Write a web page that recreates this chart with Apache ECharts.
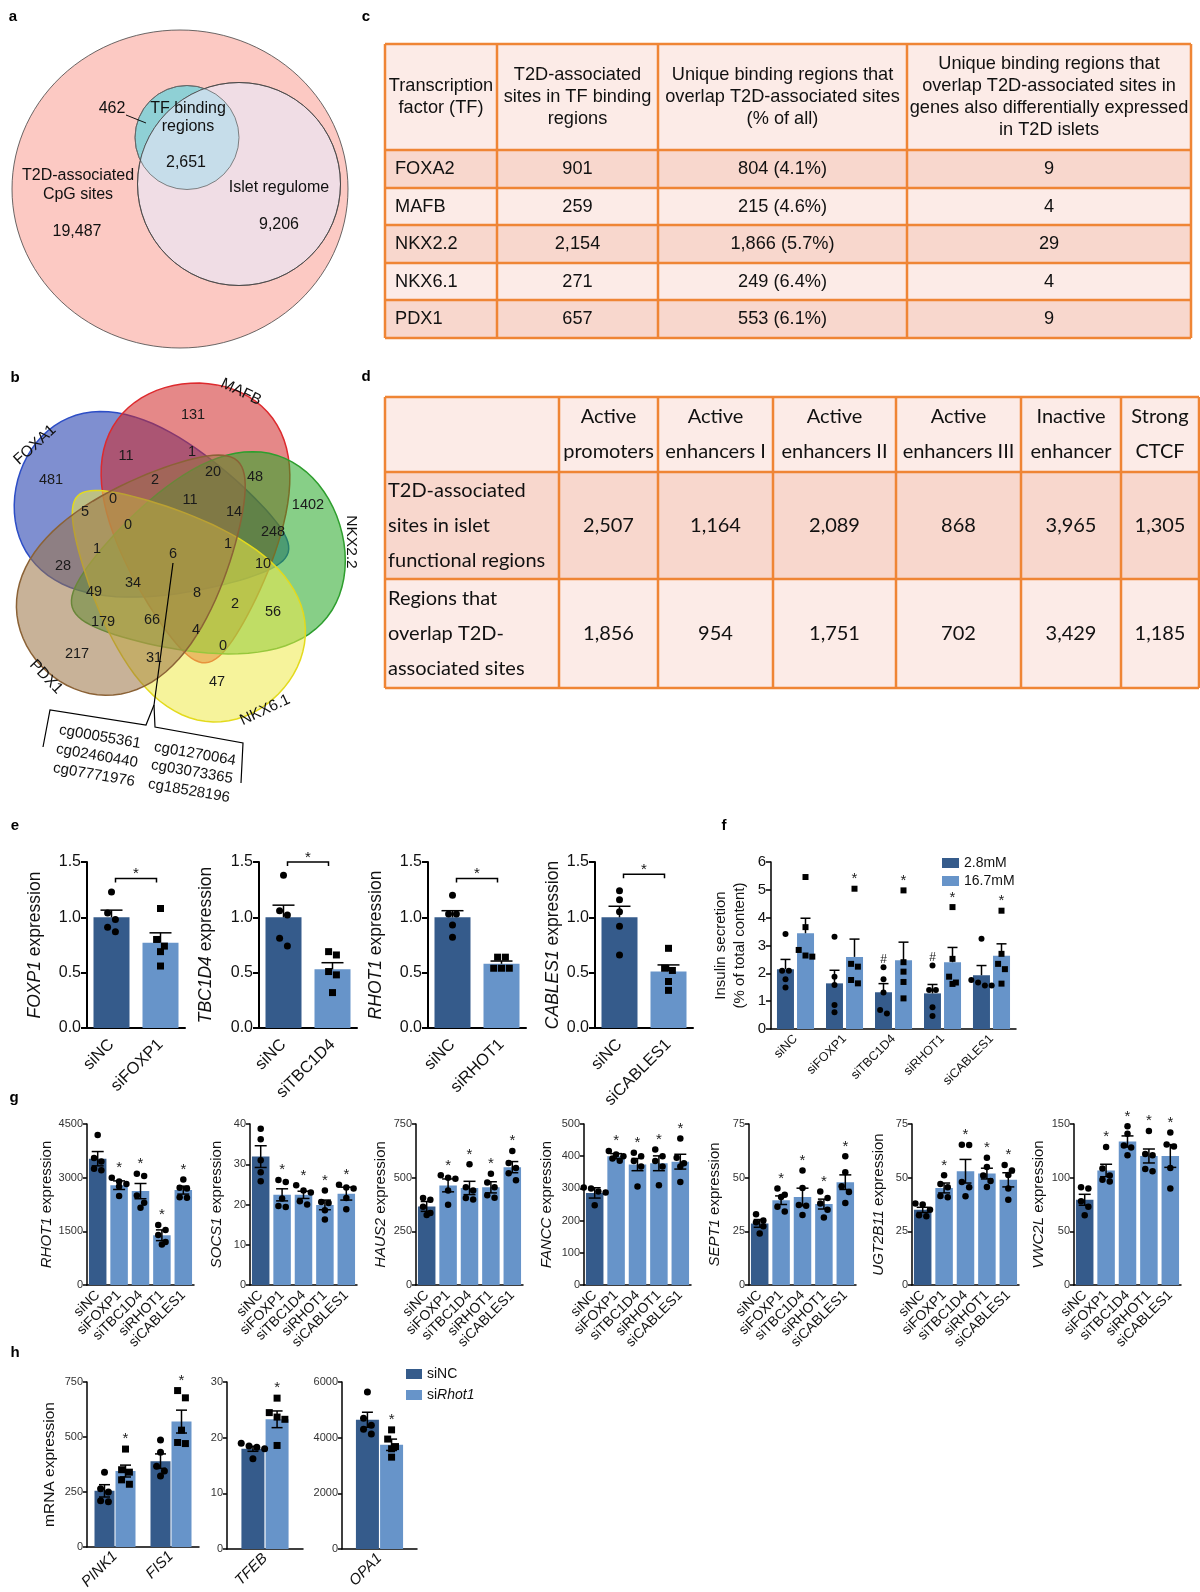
<!DOCTYPE html>
<html>
<head>
<meta charset="utf-8">
<script src="https://cdn.jsdelivr.net/npm/echarts@6.0.0/dist/echarts.min.js"></script>
<style>
  html, body { margin: 0; padding: 0; background: #fff; }
  #chart { width: 1200px; height: 1592px; }
</style>
</head>
<body>
<div id="chart"></div>
<script>
// ---------- panel a: three-set overlap ----------
const aCounts = ['462', '2,651', '19,487', '9,206'];
const aNames = ['TF binding\nregions', 'T2D-associated\nCpG sites', 'Islet regulome'];

// ---------- panel b: five-set overlap ----------
const bSets = ['FOXA1', 'MAFB', 'NKX2.2', 'NKX6.1', 'PDX1'];
const bCounts = [131, 11, 1, 481, 20, 48, 2, 0, 11, 14, 1402, 5, 0, 248, 1, 6, 1, 28, 10, 34, 49, 8, 2, 56, 179, 66, 4, 0, 217, 31, 47];
const bCpg = ['cg00055361', 'cg02460440', 'cg07771976', 'cg01270064', 'cg03073365', 'cg18528196'];

// ---------- panel c: table ----------
const cHead = ['Transcription\nfactor (TF)', 'T2D-associated\nsites in TF binding\nregions',
  'Unique binding regions that\noverlap T2D-associated sites\n(% of all)',
  'Unique binding regions that\noverlap T2D-associated sites in\ngenes also differentially expressed\nin T2D islets'];
const cTF = ['FOXA2', 'MAFB', 'NKX2.2', 'NKX6.1', 'PDX1'];
const cSites = ['901', '259', '2,154', '271', '657'];
const cUnique = ['804 (4.1%)', '215 (4.6%)', '1,866 (5.7%)', '249 (6.4%)', '553 (6.1%)'];
const cDE = ['9', '4', '29', '4', '9'];

// ---------- panel d: table ----------
const dHead = ['', 'Active\npromoters', 'Active\nenhancers I', 'Active\nenhancers II', 'Active\nenhancers III', 'Inactive\nenhancer', 'Strong\nCTCF'];
const dRowNames = ['T2D-associated\nsites in islet\nfunctional regions', 'Regions that\noverlap T2D-\nassociated sites'];
const dSites = ['2,507', '1,164', '2,089', '868', '3,965', '1,305'];
const dOverlap = ['1,856', '954', '1,751', '702', '3,429', '1,185'];

// ---------- panel e ----------
const eGenes = ['FOXP1', 'TBC1D4', 'RHOT1', 'CABLES1'];
const eMean = [[1.00, 0.77], [1.00, 0.53], [1.00, 0.58], [1.00, 0.51]];
const eSem = [[0.065, 0.09], [0.11, 0.06], [0.06, 0.025], [0.10, 0.06]];
const ePts = [
  [[1.23, 1.04, 0.98, 0.87, 0.91], [1.08, 0.80, 0.74, 0.69, 0.56]],
  [[1.38, 1.06, 1.02, 0.81, 0.74], [0.69, 0.66, 0.51, 0.48, 0.32]],
  [[1.20, 1.03, 1.03, 0.93, 0.82], [0.64, 0.64, 0.54, 0.54, 0.54]],
  [[1.24, 1.16, 1.05, 0.92, 0.66], [0.72, 0.52, 0.54, 0.42, 0.34]],
];
const eBracket = [1.35, 1.5, 1.35, 1.39];

// ---------- panel f ----------
const fGroups = ['siNC', 'siFOXP1', 'siTBC1D4', 'siRHOT1', 'siCABLES1'];
const fLowMean = [2.15, 1.64, 1.32, 1.28, 1.93];
const fLowSem = [0.35, 0.47, 0.31, 0.32, 0.35];
const fHighMean = [3.44, 2.59, 2.47, 2.40, 2.63];
const fHighSem = [0.54, 0.64, 0.65, 0.53, 0.43];
const fLowPts = [[3.41, 2.09, 2.09, 1.79, 1.49], [3.31, 1.88, 1.58, 0.86, 0.60], [2.22, 1.79, 1.31, 0.68, 0.56],
  [2.28, 1.40, 1.40, 0.78, 0.47], [3.24, 1.76, 1.56, 1.67, 1.56]];
const fHighPts = [[5.46, 3.66, 2.84, 2.60, 2.64], [5.04, 2.24, 2.34, 1.76, 1.64], [4.98, 2.40, 2.06, 1.69, 1.10],
  [4.38, 2.52, 1.88, 1.62, 1.67], [4.25, 2.70, 2.34, 2.15, 1.63]];
const fLowMark = ['', '', '#', '#', ''];
const fHighMark = ['', '*', '*', '*', '*'];

// ---------- panel g ----------
const gGenes = ['RHOT1', 'SOCS1', 'HAUS2', 'FANCC', 'SEPT1', 'UGT2B11', 'VWC2L'];
const gMax = [4500, 40, 750, 500, 75, 75, 150];
const gStep = [1500, 10, 250, 100, 25, 25, 50];
const gMean = [
  [3530, 2790, 2624, 1390, 2652],
  [31.9, 22.4, 22.4, 19.9, 22.7],
  [366, 464, 452, 455, 549],
  [286, 400, 374, 378, 383],
  [28.7, 39.5, 41.0, 37.7, 47.9],
  [35.0, 45.2, 53.0, 51.9, 49.0],
  [79.4, 106.7, 133.7, 120.2, 120.2],
];
const gSem = [
  [200, 120, 213, 150, 111],
  [2.7, 1.5, 0.9, 1.2, 1.6],
  [23, 30, 31, 26, 26],
  [16, 8, 19, 23, 23],
  [1.8, 2.0, 4.1, 2.3, 3.4],
  [1.2, 2.3, 5.5, 2.5, 3.3],
  [5.1, 5.8, 5.2, 6.5, 10.6],
];
const gPts = [
  [[4190, 3550, 3450, 3250, 3210], [3000, 2890, 2820, 2750, 2490], [3110, 3050, 2500, 2300, 2160], [1680, 1540, 1400, 1200, 1130], [2950, 2720, 2700, 2450, 2440]],
  [[38.8, 36.2, 31.0, 28.0, 25.8], [26.1, 25.6, 21.5, 19.6, 19.4], [24.8, 23.5, 23.0, 20.8, 20.0], [23.5, 20.6, 20.4, 18.6, 16.3], [24.9, 24.2, 24.0, 21.6, 18.8]],
  [[405, 397, 365, 335, 326], [511, 500, 495, 440, 374], [562, 455, 440, 405, 398], [518, 478, 455, 418, 406], [624, 568, 545, 520, 488]],
  [[303, 300, 290, 287, 248], [416, 405, 400, 393, 386], [411, 400, 385, 368, 306], [421, 400, 385, 368, 310], [455, 395, 378, 368, 320]],
  [[32.9, 30.0, 29.2, 27.4, 24.0], [44.9, 42.0, 41.0, 36.5, 34.2], [53.3, 45.2, 37.3, 36.9, 32.6], [43.6, 40.5, 38.0, 35.0, 31.4], [60.0, 52.5, 46.0, 43.3, 38.2]],
  [[38.0, 37.5, 35.0, 32.5, 32.0], [51.1, 47.0, 45.5, 41.5, 40.9], [65.3, 65.2, 48.0, 45.5, 41.3], [59.3, 55.0, 51.0, 48.5, 45.7], [55.9, 53.3, 51.2, 45.0, 39.7]],
  [[91, 90, 78, 73, 65], [128.5, 108.5, 102, 98, 96.5], [148, 141, 130, 128, 121], [143.5, 122, 121, 108, 106], [142, 131, 129, 109, 90]],
];
const gMark = ['', '*', '*', '*', '*'];

// ---------- panel h ----------
const hGenes = [['PINK1', 'FIS1'], ['TFEB'], ['OPA1']];
const hMax = [750, 30, 6000];
const hStep = [250, 10, 2000];
const hNCMean = [[255, 390], [18.0], [4644]];
const hNCSem = [[28, 33], [0.45], [270]];
const hKDMean = [[345, 570], [23.3], [3744]];
const hKDSem = [[27, 52], [1.5], [204]];
const hNCPts = [[[340, 265, 250, 210, 205], [486, 430, 367, 345, 322]], [[19.0, 18.5, 18.3, 18.0, 16.2]], [[5640, 4700, 4450, 4300, 4130]]];
const hKDPts = [[[445, 351, 340, 305, 285], [711, 678, 531, 475, 470]], [[27.1, 24.5, 23.7, 23.3, 18.6]], [[4280, 3950, 3680, 3600, 3300]]];

// ---------- styles ----------
const FONT = '"Liberation Sans", Arial, Helvetica, sans-serif';
const DARK = '#355B8B';
const LIGHT = '#6794C9';
const PINK_L = '#FCEBE7';
const PINK_D = '#F8D7CD';
const ORANGE = '#EF8535';

const grid = [], xAxis = [], yAxis = [], series = [], graphic = [];

function txt(s, x, y, o = {}) {
  return {
    type: 'text', x: x, y: y, rotation: o.rot || 0,
    style: {
      text: s, fill: o.color || '#111', fontSize: o.size || 15, fontFamily: o.family || FONT,
      fontWeight: o.weight || 'normal', align: o.align || 'center', verticalAlign: 'middle',
      textAlign: o.align || 'center', textVerticalAlign: 'middle', lineHeight: o.lh || null,
    },
  };
}

function ellipsePts(cx, cy, rx, ry) {
  const p = [];
  for (let i = 0; i < 120; i++) {
    const t = i / 120 * Math.PI * 2;
    p.push([cx + rx * Math.cos(t), cy + ry * Math.sin(t)]);
  }
  return p;
}

// overlap of two circles, as an outline
function lens(x1, y1, r1, x2, y2, r2) {
  const d = Math.hypot(x2 - x1, y2 - y1), phi = Math.atan2(y2 - y1, x2 - x1);
  const a = (r1 * r1 - r2 * r2 + d * d) / (2 * d);
  const al1 = Math.acos(a / r1), al2 = Math.acos((d - a) / r2);
  const p = [];
  for (let i = 0; i <= 40; i++) {
    const t = phi - al1 + 2 * al1 * i / 40;
    p.push([x1 + r1 * Math.cos(t), y1 + r1 * Math.sin(t)]);
  }
  for (let i = 0; i <= 40; i++) {
    const t = phi + Math.PI - al2 + 2 * al2 * i / 40;
    p.push([x2 + r2 * Math.cos(t), y2 + r2 * Math.sin(t)]);
  }
  return p;
}

// egg shaped blob, fat end away from the direction deg
function egg(cx, cy, a, b, k, deg) {
  const th = deg * Math.PI / 180, c = Math.cos(th), s = Math.sin(th), p = [];
  for (let i = 0; i < 90; i++) {
    const t = i / 90 * Math.PI * 2;
    const u = a * Math.cos(t), v = b * Math.sin(t) * (1 - k * Math.cos(t));
    p.push([cx + u * c - v * s, cy + u * s + v * c]);
  }
  return p;
}

// ---------- panel letters ----------
[['a', 13, 17], ['b', 15, 378], ['c', 366, 17], ['d', 366, 377], ['e', 15, 826], ['f', 724, 826], ['g', 14, 1098], ['h', 15, 1353]]
  .forEach(l => graphic.push(txt(l[0], l[1], l[2], {size: 15, weight: 'bold', color: '#000'})));

// ---------- panel a ----------
const tf = [187, 137.5, 52], reg = [239, 184, 101.5];
graphic.push({type: 'polygon', shape: {points: ellipsePts(180, 189, 168, 159)}, style: {fill: '#FCC9C3', stroke: '#444', lineWidth: 0.8}});
graphic.push({type: 'circle', shape: {cx: tf[0], cy: tf[1], r: tf[2]}, style: {fill: '#8FD0D5', stroke: '#555', lineWidth: 0.8}});
graphic.push({type: 'circle', shape: {cx: reg[0], cy: reg[1], r: reg[2]}, style: {fill: '#F0DDE5', stroke: '#444', lineWidth: 0.8}});
graphic.push({type: 'polygon', shape: {points: lens(tf[0], tf[1], tf[2], reg[0], reg[1], reg[2])}, style: {fill: '#C6DDEA'}});
graphic.push({type: 'circle', shape: {cx: tf[0], cy: tf[1], r: tf[2]}, style: {fill: 'none', stroke: '#666', lineWidth: 0.8}});
graphic.push({type: 'circle', shape: {cx: reg[0], cy: reg[1], r: reg[2]}, style: {fill: 'none', stroke: '#444', lineWidth: 0.8}});
graphic.push({type: 'line', shape: {x1: 126, y1: 115, x2: 146, y2: 123}, style: {stroke: '#111', lineWidth: 1}});
graphic.push(txt(aCounts[0], 112, 109, {size: 16}));
graphic.push(txt(aNames[0], 188, 118, {lh: 18, size: 16}));
graphic.push(txt(aCounts[1], 186, 163, {size: 16}));
graphic.push(txt(aNames[1], 78, 185, {lh: 19, size: 16}));
graphic.push(txt(aCounts[2], 77, 232, {size: 16}));
graphic.push(txt(aNames[2], 279, 188, {size: 16}));
graphic.push(txt(aCounts[3], 279, 225, {size: 16}));

// ---------- panel b ----------
const bShapes = [
  {c: [153, 516], a: 140, b: 84, k: 0.45, r: 15, fill: 'rgba(22,51,170,0.55)', line: '#2D4EC6'},
  {c: [198, 523], a: 140, b: 87, k: 0.45, r: 87, fill: 'rgba(208,39,39,0.55)', line: '#DD2A2E'},
  {c: [206, 566], a: 140, b: 92, k: 0.45, r: 162.8, fill: 'rgba(37,168,37,0.55)', line: '#2E9E2E'},
  {c: [178, 595], a: 141, b: 82, k: 0.45, r: 224.6, fill: 'rgba(239,233,73,0.55)', line: '#E3DA1C'},
  {c: [142, 566], a: 142, b: 84, k: 0.4, r: -47.8, fill: 'rgba(155,115,68,0.55)', line: '#8B6236'},
];
bShapes.forEach(s => graphic.push({type: 'polygon', shape: {points: egg(s.c[0], s.c[1], s.a, s.b, s.k, s.r), smooth: 0},
  style: {fill: s.fill, stroke: s.line, lineWidth: 1.5}}));
const bCountXY = [[193, 415], [126, 456], [192, 452], [51, 480], [213, 472], [255, 477], [155, 480], [113, 499], [190, 500],
  [234, 512], [308, 505], [85, 512], [128, 525], [273, 532], [97, 549], [173, 554], [228, 544], [63, 566], [263, 564],
  [133, 583], [94, 592], [197, 593], [235, 604], [273, 612], [103, 622], [152, 620], [196, 630], [223, 646], [77, 654],
  [154, 658], [217, 682]];
bCounts.forEach((n, i) => graphic.push(txt(String(n), bCountXY[i][0], bCountXY[i][1], {size: 14.5, color: '#1a1a1a'})));
const bLabelXY = [[35, 445, 0.74], [241, 392, -0.45], [351, 542, -Math.PI / 2], [265, 710, 0.44], [46, 677, -0.81]];
bSets.forEach((s, i) => graphic.push(txt(s, bLabelXY[i][0], bLabelXY[i][1], {size: 15.5, rot: bLabelXY[i][2]})));
graphic.push({type: 'polyline', shape: {points: [[173, 563], [154, 705]]}, style: {stroke: '#000', lineWidth: 1.2, fill: 'none'}});
graphic.push({type: 'polyline', shape: {points: [[154, 705], [146, 725], [50, 710], [43, 747]]}, style: {stroke: '#000', lineWidth: 1.2, fill: 'none'}});
graphic.push({type: 'polyline', shape: {points: [[154, 705], [155, 727], [243, 743], [241, 783]]}, style: {stroke: '#000', lineWidth: 1.2, fill: 'none'}});
const bCpgXY = [[100, 737], [97, 756], [94, 775], [195, 754], [192, 772], [189, 791]];
bCpg.forEach((s, i) => graphic.push(txt(s, bCpgXY[i][0], bCpgXY[i][1], {size: 15, rot: -0.17})));

// ---------- tables ----------
function table(colX, rowY, fills, cells, o) {
  for (let r = 0; r < rowY.length - 1; r++) {
    graphic.push({type: 'rect', shape: {x: colX[0], y: rowY[r], width: colX[colX.length - 1] - colX[0], height: rowY[r + 1] - rowY[r]},
      style: {fill: fills[r]}});
  }
  rowY.forEach(y => graphic.push({type: 'line', shape: {x1: colX[0], y1: y, x2: colX[colX.length - 1], y2: y},
    style: {stroke: ORANGE, lineWidth: 2.5}}));
  colX.forEach(x => graphic.push({type: 'line', shape: {x1: x, y1: rowY[0], x2: x, y2: rowY[rowY.length - 1]},
    style: {stroke: ORANGE, lineWidth: 2.5}}));
  cells.forEach((row, r) => row.forEach((s, c) => {
    if (!s) return;
    const left = c === 0 && r > 0;
    const x = left ? colX[0] + o.pad : (colX[c] + colX[c + 1]) / 2;
    const y = (rowY[r] + rowY[r + 1]) / 2;
    graphic.push(txt(s, x, y, {size: o.size, family: o.family, lh: o.lh, align: left ? 'left' : 'center', color: '#111'}));
  }));
}

table([385, 497, 658, 907, 1191], [44, 150, 188, 225, 263, 300, 338],
  [PINK_L, PINK_D, PINK_L, PINK_D, PINK_L, PINK_D],
  [cHead].concat(cTF.map((t, i) => [t, cSites[i], cUnique[i], cDE[i]])),
  {size: 18.2, lh: 21.7, pad: 10, family: FONT});

table([385, 559, 658, 773, 896, 1021, 1121, 1199], [397, 472, 579, 688],
  [PINK_L, PINK_D, PINK_L],
  [dHead, [dRowNames[0]].concat(dSites), [dRowNames[1]].concat(dOverlap)],
  {size: 20, lh: 35, pad: 3, family: 'Lato, "Liberation Sans", sans-serif'});

// ---------- chart helpers ----------
function addAxes(box, cats, yMax, yStep, ax) {
  const i = grid.length;
  grid.push({left: box[0], top: box[1], width: box[2], height: box[3], containLabel: false});
  xAxis.push({
    gridIndex: i, type: 'category', data: cats,
    axisLine: {lineStyle: {color: '#000', width: ax.lw}},
    axisTick: {alignWithLabel: true, length: ax.tick, lineStyle: {color: '#000', width: ax.lw}},
    axisLabel: {interval: 0, rotate: 45, margin: ax.xMargin, fontSize: ax.xFont, color: '#111', fontFamily: FONT,
      fontStyle: ax.xItalic ? 'italic' : 'normal'},
  });
  yAxis.push({
    gridIndex: i, type: 'value', min: 0, max: yMax, interval: yStep,
    axisLine: {show: true, lineStyle: {color: '#000', width: ax.lw}},
    axisTick: {show: true, length: ax.tick, lineStyle: {color: '#000', width: ax.lw}},
    axisLabel: {fontSize: ax.yFont, color: ax.yColor, margin: ax.yMargin, fontFamily: FONT, formatter: ax.fmt || (v => String(v))},
    splitLine: {show: false},
    name: ax.name || '', nameLocation: 'middle', nameGap: ax.nameGap || 30,
    nameTextStyle: {fontSize: ax.nameFont, color: '#111', fontFamily: FONT, lineHeight: ax.nameLH || null,
      rich: {i: {fontStyle: 'italic', fontSize: ax.nameFont, color: '#111', fontFamily: FONT}}},
  });
  return i;
}

function swarm(ys, d) {
  const order = ys.map((y, i) => i).sort((a, b) => ys[a] - ys[b]);
  const offs = ys.map(() => 0);
  let cl = [order[0]];
  const flush = () => cl.forEach((id, k) => { offs[id] = (k - (cl.length - 1) / 2) * d; });
  for (let j = 1; j < order.length; j++) {
    const id = order[j];
    if (ys[id] - ys[cl[0]] < d) cl.push(id); else { flush(); cl = [id]; }
  }
  flush();
  return offs;
}

// error bars, dots and marks drawn through the axes
function dots(i, means, sems, pts, o) {
  series.push({
    type: 'custom', xAxisIndex: i, yAxisIndex: i, z: 10, clip: false, silent: true,
    data: means.map((m, k) => [k, m]),
    renderItem(params, api) {
      const k = params.dataIndex;
      const cx = api.coord([k, 0])[0] + o.off;
      const yc = v => api.coord([k, v])[1];
      const top = yc(means[k] + sems[k]);
      const low = o.both ? yc(means[k] - sems[k]) : yc(means[k]);
      const ln = {stroke: '#000', lineWidth: 1.5};
      const ch = [
        {type: 'line', shape: {x1: cx, y1: low, x2: cx, y2: top}, style: ln},
        {type: 'line', shape: {x1: cx - o.cap / 2, y1: top, x2: cx + o.cap / 2, y2: top}, style: ln},
      ];
      if (o.both) ch.push({type: 'line', shape: {x1: cx - o.cap / 2, y1: low, x2: cx + o.cap / 2, y2: low}, style: ln});
      const ys = pts[k].map(yc);
      const dx = swarm(ys, o.size + 0.8);
      const sq = Array.isArray(o.square) ? o.square[k] : o.square;
      ys.forEach((y, j) => {
        const x = cx + dx[j];
        if (sq) ch.push({type: 'rect', shape: {x: x - o.size / 2, y: y - o.size / 2, width: o.size, height: o.size}, style: {fill: '#000'}});
        else ch.push({type: 'circle', shape: {cx: x, cy: y, r: o.size / 2}, style: {fill: '#000'}});
      });
      if (o.marks && o.marks[k]) {
        ch.push({type: 'text', x: cx, y: Math.min(top, ...ys) - o.size / 2 + 1,
          style: {text: o.marks[k], fill: '#222', fontSize: o.markFont, fontFamily: FONT, align: 'center', verticalAlign: 'bottom'}});
      }
      return {type: 'group', children: ch};
    },
  });
}

function bracket(i, level, mark) {
  series.push({
    type: 'custom', xAxisIndex: i, yAxisIndex: i, z: 10, clip: false, silent: true,
    data: [[0, level]],
    renderItem(params, api) {
      const a = api.coord([0, level]), b = api.coord([1, level]);
      const x1 = a[0] + 4, x2 = b[0] - 4, y = a[1];
      return {type: 'group', children: [
        {type: 'polyline', shape: {points: [[x1, y + 4], [x1, y], [x2, y], [x2, y + 4]]}, style: {stroke: '#000', lineWidth: 1.5, fill: 'none'}},
        {type: 'text', x: (x1 + x2) / 2, y: y + 3, style: {text: mark, fill: '#111', fontSize: 15, fontFamily: FONT, align: 'center', verticalAlign: 'bottom'}},
      ]};
    },
  });
}

// ---------- panel e ----------
const eLeft = [87, 259, 428, 595], eGap = [43, 44, 43, 33];
eGenes.forEach((g, k) => {
  const i = addAxes([eLeft[k], 862, 98, 166], ['siNC', 'si' + g], 1.5, 0.5, {
    lw: 2, tick: 6, xMargin: 14, xFont: 16.5, xItalic: false, yFont: 16, yColor: '#111', yMargin: 6,
    fmt: v => v.toFixed(1), name: '{i|' + g + '} expression', nameGap: eGap[k], nameFont: 17.5});
  series.push({type: 'bar', name: 'e' + k, xAxisIndex: i, yAxisIndex: i, barWidth: 36, silent: true,
    data: eMean[k].map((m, j) => ({value: m, itemStyle: {color: j ? LIGHT : DARK}}))});
  dots(i, eMean[k], eSem[k], ePts[k], {off: 0, cap: 22, size: 7, both: false, square: [false, true]});
  bracket(i, eBracket[k], '*');
});

// ---------- panel f ----------
const fi = addAxes([771, 862, 245, 167], fGroups, 6, 1, {
  lw: 1.5, tick: 5, xMargin: 8, xFont: 12.5, yFont: 15, yColor: '#111', yMargin: 5,
  name: 'Insulin secretion\n(% of total content)', nameGap: 22, nameFont: 15, nameLH: 19});
series.push({type: 'bar', name: '2.8mM', xAxisIndex: fi, yAxisIndex: fi, barWidth: 17, barGap: '18%', silent: true,
  itemStyle: {color: DARK}, data: fLowMean});
series.push({type: 'bar', name: '16.7mM', xAxisIndex: fi, yAxisIndex: fi, barWidth: 17, barGap: '18%', silent: true,
  itemStyle: {color: LIGHT}, data: fHighMean});
dots(fi, fLowMean, fLowSem, fLowPts, {off: -10, cap: 10, size: 6, both: false, square: false, marks: fLowMark, markFont: 12});
dots(fi, fHighMean, fHighSem, fHighPts, {off: 10, cap: 10, size: 6, both: false, square: true, marks: fHighMark, markFont: 15});

// ---------- panel g ----------
const gLeft = [87, 250, 416, 584, 749, 912, 1074], gGap = [33, 26, 28, 30, 27, 26, 28];
gGenes.forEach((g, k) => {
  const i = addAxes([gLeft[k], 1124, 107, 161], fGroups, gMax[k], gStep[k], {
    lw: 1.5, tick: 4, xMargin: 8, xFont: 14, yFont: 11, yColor: '#333', yMargin: 4,
    name: '{i|' + g + '} expression', nameGap: gGap[k], nameFont: 15});
  series.push({type: 'bar', name: 'g' + k, xAxisIndex: i, yAxisIndex: i, barWidth: 17.5, silent: true,
    data: gMean[k].map((m, j) => ({value: m, itemStyle: {color: j ? LIGHT : DARK}}))});
  dots(i, gMean[k], gSem[k], gPts[k], {off: 0, cap: 12, size: 6.5, both: true, square: false, marks: gMark, markFont: 15});
});

// ---------- panel h ----------
const hLeft = [87, 227, 342], hWidth = [112, 76, 75], hBar = [20, 23, 23];
hGenes.forEach((cats, k) => {
  const i = addAxes([hLeft[k], 1382, hWidth[k], 167], cats, hMax[k], hStep[k], {
    lw: 1.5, tick: 4, xMargin: 7, xFont: 15, xItalic: true, yFont: 11, yColor: '#333', yMargin: 4,
    name: k === 0 ? 'mRNA expression' : '', nameGap: 29, nameFont: 15.5});
  const off = hBar[k] * 1.05 / 2;
  series.push({type: 'bar', name: 'siNC', xAxisIndex: i, yAxisIndex: i, barWidth: hBar[k], barGap: '5%', silent: true,
    itemStyle: {color: DARK}, data: hNCMean[k]});
  series.push({type: 'bar', name: 'siRhot1', xAxisIndex: i, yAxisIndex: i, barWidth: hBar[k], barGap: '5%', silent: true,
    itemStyle: {color: LIGHT}, data: hKDMean[k]});
  dots(i, hNCMean[k], hNCSem[k], hNCPts[k], {off: -off, cap: 11, size: 7, both: true, square: false});
  dots(i, hKDMean[k], hKDSem[k], hKDPts[k], {off: off, cap: 11, size: 7, both: true, square: true,
    marks: hKDMean[k].map(() => '*'), markFont: 15});
});

const chart = echarts.init(document.getElementById('chart'), null, {renderer: 'canvas', width: 1200, height: 1592});
chart.setOption({
  animation: false,
  backgroundColor: '#fff',
  textStyle: {fontFamily: FONT},
  grid: grid,
  xAxis: xAxis,
  yAxis: yAxis,
  series: series,
  legend: [
    {data: ['2.8mM', '16.7mM'], left: 942, top: 856, orient: 'vertical', icon: 'rect', itemWidth: 17, itemHeight: 10,
      itemGap: 4, selectedMode: false, padding: 0, textStyle: {fontSize: 14, color: '#111', fontFamily: FONT}},
    {data: ['siNC', 'siRhot1'], left: 406, top: 1367, orient: 'vertical', icon: 'rect', itemWidth: 16, itemHeight: 10,
      itemGap: 7, selectedMode: false, padding: 0,
      formatter: n => (n === 'siRhot1' ? 'si{i|Rhot1}' : n),
      textStyle: {fontSize: 14, color: '#111', fontFamily: FONT,
        rich: {i: {fontStyle: 'italic', fontSize: 14, color: '#111', fontFamily: FONT}}}},
  ],
  graphic: {elements: graphic},
});
</script>
</body>
</html>
